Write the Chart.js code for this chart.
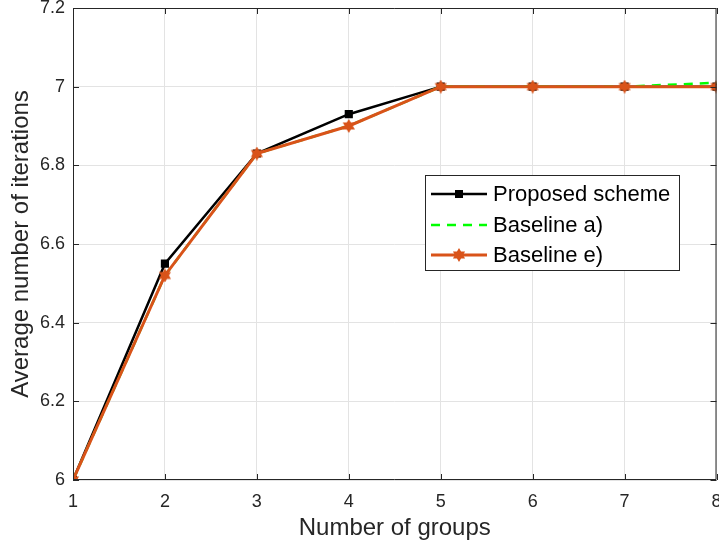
<!DOCTYPE html>
<html>
<head>
<meta charset="utf-8">
<script src="https://cdn.jsdelivr.net/npm/chart.js@4/dist/chart.umd.min.js"></script>
<style>
  html, body { margin: 0; padding: 0; background: #fff; }
  #wrap { width: 719px; height: 543px; }
</style>
</head>
<body>
<div id="wrap"><canvas id="myChart" width="719" height="543"></canvas></div>
<script>
// data
const groups = [1, 2, 3, 4, 5, 6, 7, 8];
const proposed = [6.0, 6.55, 6.83, 6.93, 7.0, 7.0, 7.0, 7.0];
const baselineA = [6.0, 6.52, 6.83, 6.90, 7.0, 7.0, 7.0, 7.01];
const baselineE = [6.0, 6.52, 6.83, 6.90, 7.0, 7.0, 7.0, 7.0];
const yTickLabels = ['6', '6.2', '6.4', '6.6', '6.8', '7', '7.2'];
const seriesNames = ['Proposed scheme', 'Baseline a)', 'Baseline e)'];

const ORANGE = '#D95319';
const FONT = '"Liberation Sans", Arial, Helvetica, sans-serif';

function hexagram(ctx, cx, cy, R) {
    const r = R / Math.sqrt(3);
    ctx.beginPath();
    for (let i = 0; i < 12; i++) {
        const a = -Math.PI / 2 + i * Math.PI / 6;
        const rad = i % 2 === 0 ? R : r;
        const x = cx + rad * Math.cos(a), y = cy + rad * Math.sin(a);
        if (i === 0) ctx.moveTo(x, y); else ctx.lineTo(x, y);
    }
    ctx.closePath();
}

// filled six-point star marker like MATLAB 'h'
const starImg = document.createElement('canvas');
starImg.width = 14; starImg.height = 14;
(function() {
    const c = starImg.getContext('2d');
    hexagram(c, 7, 7, 7);
    c.fillStyle = ORANGE;
    c.fill();
})();

function pts(arr) {
    return arr.map((v, i) => ({ x: groups[i], y: v }));
}

const frame = {
    id: 'frame',
    afterDraw(chart) {
        const ctx = chart.ctx;
        const a = chart.chartArea;
        const xs = chart.scales.x, ys = chart.scales.y;
        ctx.save();
        ctx.strokeStyle = '#262626';
        ctx.lineWidth = 1;
        ctx.beginPath();
        ctx.rect(a.left + 0.5, a.top + 0.5, a.right - a.left - 1, a.bottom - a.top - 1);
        ctx.stroke();
        // inward ticks
        ctx.beginPath();
        groups.forEach(g => {
            const x = Math.round(xs.getPixelForValue(g)) + 0.5;
            ctx.moveTo(x, a.bottom); ctx.lineTo(x, a.bottom - 6);
            ctx.moveTo(x, a.top); ctx.lineTo(x, a.top + 6);
        });
        yTickLabels.forEach(t => {
            const y = Math.round(ys.getPixelForValue(parseFloat(t))) + 0.5;
            ctx.moveTo(a.left, y); ctx.lineTo(a.left + 6, y);
            ctx.moveTo(a.right, y); ctx.lineTo(a.right - 6, y);
        });
        ctx.stroke();

        // legend box
        const bx = 425.5, by = 175.5, bw = 254, bh = 95;
        ctx.fillStyle = '#fff';
        ctx.fillRect(bx, by, bw, bh);
        ctx.strokeStyle = '#262626';
        ctx.strokeRect(bx, by, bw, bh);
        const rows = [194, 225, 255];
        const x0 = 431, x1 = 487, xm = (x0 + x1) / 2;
        ctx.font = '22px ' + FONT;
        ctx.textBaseline = 'middle';
        ctx.fillStyle = '#000';
        // proposed
        ctx.lineWidth = 2.5;
        ctx.strokeStyle = '#000';
        ctx.beginPath(); ctx.moveTo(x0, rows[0]); ctx.lineTo(x1, rows[0]); ctx.stroke();
        ctx.fillRect(xm - 4, rows[0] - 4, 8, 8);
        // baseline a
        ctx.strokeStyle = '#00ff00';
        ctx.setLineDash([9, 7]);
        ctx.beginPath(); ctx.moveTo(x0, rows[1]); ctx.lineTo(x1, rows[1]); ctx.stroke();
        ctx.setLineDash([]);
        // baseline e
        ctx.strokeStyle = ORANGE;
        ctx.lineWidth = 3;
        ctx.beginPath(); ctx.moveTo(x0, rows[2]); ctx.lineTo(x1, rows[2]); ctx.stroke();
        ctx.drawImage(starImg, xm - 7, rows[2] - 7);
        ctx.fillStyle = '#000';
        seriesNames.forEach((n, i) => ctx.fillText(n, 493, rows[i] + 1));
        ctx.restore();
    }
};

window.addEventListener('load', function() {
    let ctx = document.getElementById('myChart').getContext('2d');
    let chart = new Chart(ctx, {
        type: 'line',
        data: {
            datasets: [{
                label: seriesNames[0],
                data: pts(proposed),
                borderColor: '#000',
                backgroundColor: '#000',
                borderWidth: 2.5,
                pointStyle: 'rect',
                pointRadius: 4,
                order: 3
            }, {
                label: seriesNames[1],
                data: pts(baselineA),
                borderColor: '#00ff00',
                backgroundColor: '#00ff00',
                borderWidth: 2.5,
                borderDash: [9, 7],
                pointRadius: 0,
                order: 2
            }, {
                label: seriesNames[2],
                data: pts(baselineE),
                borderColor: ORANGE,
                backgroundColor: ORANGE,
                borderWidth: 3,
                pointStyle: starImg,
                order: 1
            }]
        },
        options: {
            responsive: false,
            animation: false,
            layout: { autoPadding: false, padding: { left: 0, right: 2.5, top: 8, bottom: 0 } },
            plugins: {
                legend: { display: false },
                tooltip: { enabled: false }
            },
            elements: { line: { tension: 0 } },
            scales: {
                x: {
                    type: 'linear',
                    min: 1, max: 8,
                    afterBuildTicks(s) { s.ticks = groups.map(g => ({ value: g })); },
                    afterFit(s) { s.height = 63; s.paddingLeft = 0; s.paddingRight = 0; },
                    grid: { color: '#e3e3e3', drawTicks: false },
                    border: { display: false },
                    ticks: {
                        padding: 11,
                        color: '#262626',
                        font: { family: FONT, size: 18 },
                        maxRotation: 0,
                        callback: v => String(v)
                    },
                    title: {
                        display: true,
                        text: 'Number of groups',
                        color: '#262626',
                        font: { family: FONT, size: 24 },
                        padding: { top: 2, bottom: 0 }
                    }
                },
                y: {
                    type: 'linear',
                    min: 6, max: 7.2,
                    afterBuildTicks(s) { s.ticks = yTickLabels.map(t => ({ value: parseFloat(t) })); },
                    afterFit(s) { s.width = 73; s.paddingTop = 0; s.paddingBottom = 0; },
                    grid: { color: '#e3e3e3', drawTicks: false },
                    border: { display: false },
                    ticks: {
                        padding: 8,
                        color: '#262626',
                        font: { family: FONT, size: 18 },
                        callback: (v, i) => yTickLabels[i]
                    },
                    title: {
                        display: true,
                        text: 'Average number of iterations',
                        color: '#262626',
                        font: { family: FONT, size: 24 },
                        padding: { top: 7, bottom: 0 }
                    }
                }
            }
        },
        plugins: [frame]
    });
});
</script>
</body>
</html>
